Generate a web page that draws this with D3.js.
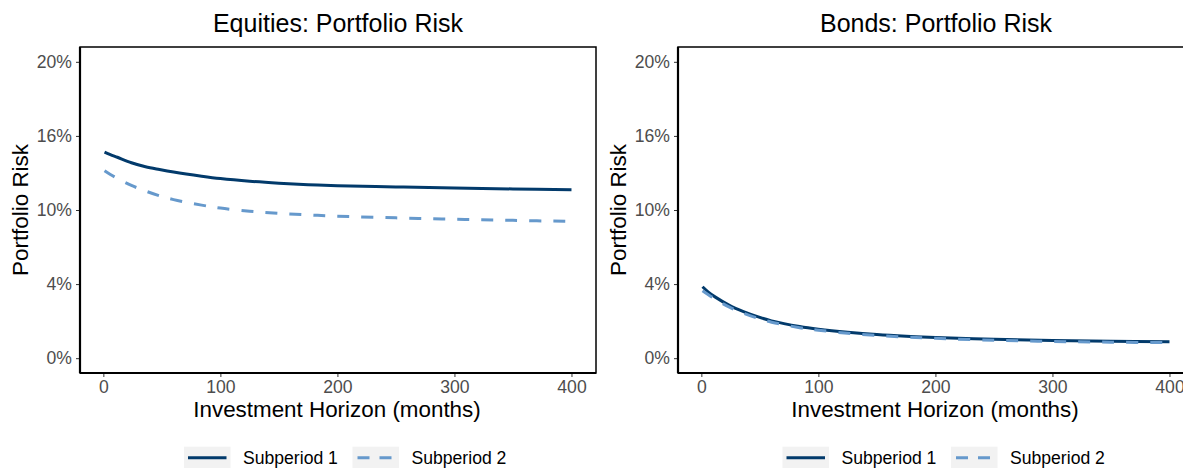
<!DOCTYPE html>
<html>
<head>
<meta charset="utf-8">
<script src="https://cdn.jsdelivr.net/npm/d3@7"></script>
<style>
  html, body { margin: 0; padding: 0; background: #fff; }
  svg { display: block; font-family: "Liberation Sans", Arial, Helvetica, sans-serif; }
</style>
</head>
<body>
<svg id="chart" width="1183" height="468"></svg>
<script>
// ---- data ----
const horizon = [1, 6, 12, 24, 36, 48, 60, 84, 100, 125, 150, 175, 200, 250, 300, 350, 400];
const equitiesSub1 = [0.1391, 0.1374, 0.1356, 0.1319, 0.1292, 0.1273, 0.1256, 0.1228, 0.1212, 0.1194, 0.1181, 0.1171, 0.1164, 0.1156, 0.1149, 0.1142, 0.1137];
const equitiesSub2 = [0.1265, 0.1240, 0.1213, 0.1166, 0.1128, 0.1096, 0.1070, 0.1033, 0.1013, 0.0992, 0.0978, 0.0967, 0.0958, 0.0947, 0.0938, 0.0930, 0.0923];
const bondsSub1 = [0.0482, 0.0446, 0.0412, 0.0356, 0.0314, 0.0280, 0.0252, 0.0214, 0.0196, 0.0175, 0.0159, 0.0148, 0.0140, 0.0127, 0.0119, 0.0114, 0.0111];
const bondsSub2 = [0.0455, 0.0428, 0.0398, 0.0344, 0.0303, 0.0270, 0.0243, 0.0206, 0.0189, 0.0168, 0.0153, 0.0142, 0.0134, 0.0121, 0.0113, 0.0108, 0.0105];
const xTicks = [0, 100, 200, 300, 400];
const yTicks = [0, 0.05, 0.10, 0.15, 0.20];
const yTickLabels = ["0%", "4%", "10%", "16%", "20%"];
const seriesNames = ["Subperiod 1", "Subperiod 2"];
const panelTitles = ["Equities: Portfolio Risk", "Bonds: Portfolio Risk"];
const xTitle = "Investment Horizon (months)";
const yTitle = "Portfolio Risk";

// ---- styles ----
const colors = ["#023a6b", "#6699cc"];
const dashes = [null, "12,12"];
const svg = d3.select("#chart");

const panelTop = 47, panelBottom = 373, panelWidth = 516;
const panels = [
  { left: 80, title: panelTitles[0], s: [equitiesSub1, equitiesSub2], legendX: 184 },
  { left: 678, title: panelTitles[1], s: [bondsSub1, bondsSub2], legendX: 782.5 }
];

const y = d3.scaleLinear().domain([-0.01, 0.21]).range([panelBottom, panelTop]);

panels.forEach(p => {
  const x = d3.scaleLinear().domain([-19.95, 420.95]).range([p.left, p.left + panelWidth]);
  const g = svg.append("g");

  // title
  g.append("text").attr("x", p.left + panelWidth / 2).attr("y", 32)
    .attr("text-anchor", "middle").attr("font-size", 25).attr("fill", "#000")
    .text(p.title);

  // axes
  const xAxis = d3.axisBottom(x).tickValues(xTicks).tickSize(4).tickPadding(4);
  const gx = g.append("g").attr("transform", `translate(0,${panelBottom})`).call(xAxis);
  const yAxis = d3.axisLeft(y).tickValues(yTicks).tickFormat((d, i) => yTickLabels[i]).tickSize(4).tickPadding(4);
  const gy = g.append("g").attr("transform", `translate(${p.left},0)`).call(yAxis);
  [gx, gy].forEach(a => {
    a.select(".domain").remove();
    a.selectAll(".tick line").attr("stroke", "#333").attr("stroke-width", 1);
    a.selectAll(".tick text").attr("fill", "#4d4d4d").attr("font-size", 17.6)
      .attr("font-family", '"Liberation Sans", Arial, Helvetica, sans-serif');
  });

  // panel border
  g.append("rect").attr("x", p.left).attr("y", panelTop)
    .attr("width", panelWidth).attr("height", panelBottom - panelTop)
    .attr("fill", "none").attr("stroke", "#000").attr("stroke-width", 1.5);
  g.append("line").attr("x1", p.left).attr("x2", p.left + panelWidth)
    .attr("y1", panelBottom).attr("y2", panelBottom).attr("stroke", "#000").attr("stroke-width", 2.2);
  g.append("line").attr("x1", p.left).attr("x2", p.left)
    .attr("y1", panelTop).attr("y2", panelBottom).attr("stroke", "#000").attr("stroke-width", 2.2);

  // lines
  const line = d3.line().x((d, i) => x(horizon[i])).y(d => y(d)).curve(d3.curveCatmullRom.alpha(0.5));
  p.s.forEach((vals, k) => {
    g.append("path").datum(vals).attr("d", line)
      .attr("fill", "none").attr("stroke", colors[k]).attr("stroke-width", 3)
      .attr("stroke-dasharray", dashes[k]);
  });

  // axis titles
  g.append("text").attr("x", p.left + panelWidth / 2 - 1).attr("y", 417)
    .attr("text-anchor", "middle").attr("font-size", 22.4).attr("fill", "#000").text(xTitle);
  g.append("text").attr("transform", `translate(${p.left - 52},${(panelTop + panelBottom) / 2}) rotate(-90)`)
    .attr("text-anchor", "middle").attr("font-size", 22.4).attr("fill", "#000").text(yTitle);

  // legend
  const lg = g.append("g").attr("transform", `translate(${p.legendX},446.7)`);
  const keyW = 46.5, keyH = 22;
  const offsets = [0, 168.5];
  seriesNames.forEach((name, k) => {
    const it = lg.append("g").attr("transform", `translate(${offsets[k]},0)`);
    it.append("rect").attr("width", keyW).attr("height", keyH).attr("fill", "#f2f2f2");
    it.append("line").attr("x1", 4).attr("x2", keyW - 4).attr("y1", keyH / 2).attr("y2", keyH / 2)
      .attr("stroke", colors[k]).attr("stroke-width", 3).attr("stroke-dasharray", dashes[k] ? "12,10" : null)
      .attr("stroke-dashoffset", dashes[k] ? -1 : null);
    it.append("text").attr("x", keyW + 12.5).attr("y", keyH / 2).attr("dy", "0.35em")
      .attr("font-size", 17.6).attr("fill", "#000").text(name);
  });
});
</script>
</body>
</html>
